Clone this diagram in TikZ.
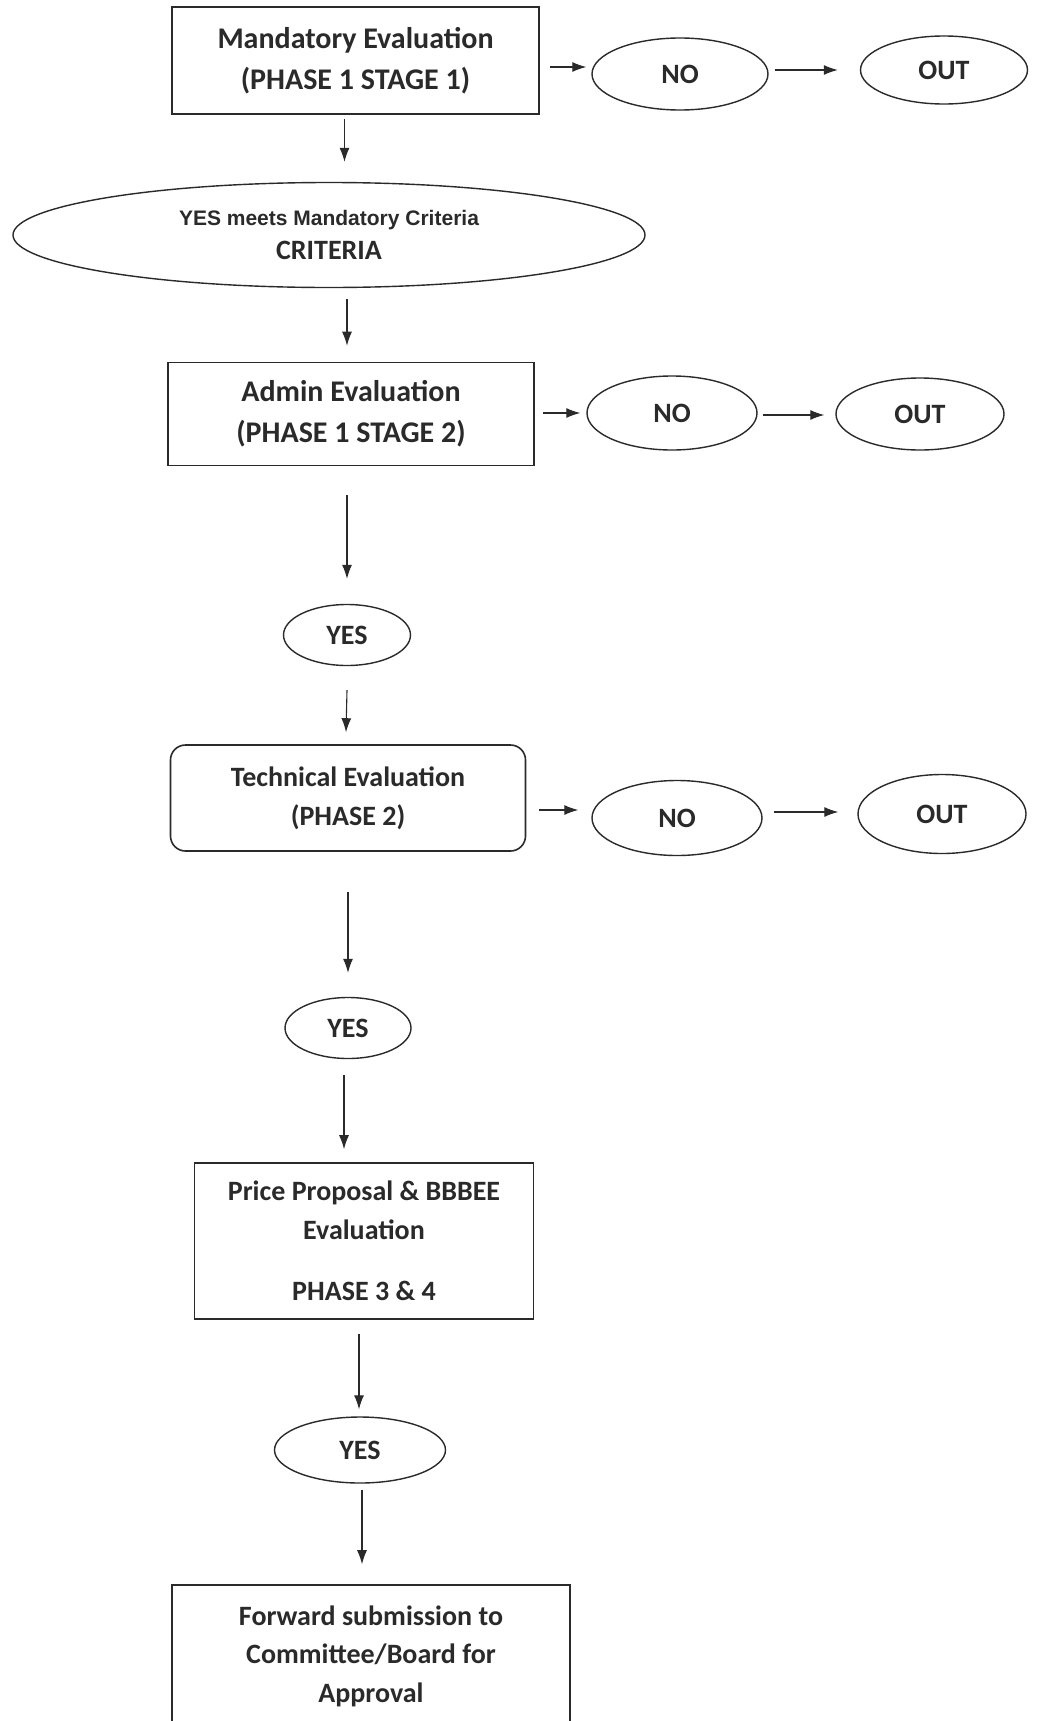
\documentclass[tikz,border=0pt]{standalone}
\usepackage{fontspec}
\setmainfont{Carlito}
\newfontfamily\arialfont{Liberation Sans}
\usetikzlibrary{shapes.geometric,arrows.meta}
\definecolor{ink}{HTML}{2A2A2A}
\tikzset{
  boxnode/.style={draw=ink, line width=1.6pt, rectangle, inner sep=0pt, align=center, font=\bfseries\fontsize{30}{41}\selectfont, text=ink},
  roundbox/.style={boxnode, rounded corners=15pt},
  ovalnode/.style={draw=ink, line width=1.4pt, ellipse, inner sep=0pt, align=center, font=\bfseries\fontsize{28}{34}\selectfont, text=ink},
  arr/.style={draw=ink, line width=1.1pt, -{Latex[length=14pt,width=10pt]}}
}
\begin{document}
\begin{tikzpicture}[x=1pt,y=-1pt]
\useasboundingbox[fill=white] (0,0) rectangle (1040,1721);

% Row 1
\node[boxnode, minimum width=367pt, minimum height=107pt] (b1) at (355.5,60.5) {Mandatory Evaluation\\(PHASE 1 STAGE 1)};
\node[ovalnode, minimum width=176pt, minimum height=72pt] (no1) at (680,74) {NO};
\node[ovalnode, minimum width=167pt, minimum height=68pt] (out1) at (944,70) {OUT};

% Criteria ellipse
\node[ovalnode, minimum width=632pt, minimum height=105pt, font=\bfseries\fontsize{21}{34}\selectfont] (ell) at (329,235) {{\arialfont YES meets Mandatory Criteria}\\{\fontsize{28}{34}\selectfont CRITERIA}};

% Row 2
\node[boxnode, minimum width=366pt, minimum height=103pt] (b2) at (351,414) {Admin Evaluation\\(PHASE 1 STAGE 2)};
\node[ovalnode, minimum width=170pt, minimum height=74pt] (no2) at (672,413) {NO};
\node[ovalnode, minimum width=168pt, minimum height=72pt] (out2) at (920,414) {OUT};

\node[ovalnode, minimum width=127pt, minimum height=61pt] (yes1) at (347,635) {YES};

% Row 3
\node[roundbox, minimum width=355pt, minimum height=106pt, font=\bfseries\fontsize{28}{39}\selectfont] (b3) at (348,798) {Technical Evaluation\\(PHASE 2)};
\node[ovalnode, minimum width=170pt, minimum height=75pt] (no3) at (677,818) {NO};
\node[ovalnode, minimum width=168pt, minimum height=79pt] (out3) at (942,814) {OUT};

\node[ovalnode, minimum width=126pt, minimum height=61pt] (yes2) at (348,1028) {YES};

% Price box
\node[boxnode, minimum width=339pt, minimum height=156pt, font=\bfseries\fontsize{28}{39}\selectfont] (b4) at (364,1241) {Price Proposal \& BBBEE\\Evaluation\\[22pt]PHASE 3 \& 4};

\node[ovalnode, minimum width=171pt, minimum height=66pt] (yes3) at (360,1450) {YES};

% Forward box
\node[boxnode, minimum width=398pt, minimum height=142pt, font=\bfseries\fontsize{28}{38.5}\selectfont] (b5) at (371,1656) {Forward submission to\\Committee/Board for\\Approval};

% Vertical arrows
\draw[arr] ([xshift=-11pt,yshift=-4pt]b1.south) -- ([xshift=-11pt,yshift=20pt]b1.south |- ell.north);
\draw[arr] ([xshift=18pt,yshift=-11pt]ell.south) -- ([xshift=18pt,yshift=16pt]ell.south |- b2.north);
\draw[arr] ([xshift=-4pt,yshift=-29pt]b2.south) -- ([yshift=25pt]yes1.north);
\draw[arr] ([yshift=-24pt]yes1.south) -- ([xshift=-1pt,yshift=12pt]yes1.south |- b3.north);
\draw[arr] ([yshift=-40pt]b3.south) -- ([yshift=24pt]yes2.north);
\draw[arr] ([xshift=-4pt,yshift=-16pt]yes2.south) -- ([xshift=-4pt,yshift=13pt]yes2.south |- b4.north);
\draw[arr] ([xshift=-5pt,yshift=-14pt]b4.south) -- ([xshift=-1pt,yshift=7pt]yes3.north);
\draw[arr] ([xshift=2pt,yshift=-6pt]yes3.south) -- ([xshift=2pt,yshift=20pt]yes3.south |- b5.north);

% Horizontal arrows
\draw[arr] ([xshift=10pt,yshift=7pt]b1.east |- no1.west) -- ([xshift=-5pt,yshift=7pt]no1.west);
\draw[arr] ([xshift=6pt,yshift=4pt]no1.east) -- ([xshift=-22pt,yshift=4pt]no1.east -| out1.west);
\draw[arr] ([xshift=8pt]b2.east |- no2.west) -- ([xshift=-6pt]no2.west);
\draw[arr] ([xshift=5pt,yshift=-2pt]no2.east) -- ([xshift=-11pt,yshift=-2pt]no2.east -| out2.west);
\draw[arr] ([xshift=13pt,yshift=8pt]b3.east |- no3.west) -- ([xshift=-13pt,yshift=8pt]no3.west);
\draw[arr] ([xshift=11pt,yshift=6pt]no3.east) -- ([xshift=-19pt,yshift=6pt]no3.east -| out3.west);
\end{tikzpicture}
\end{document}
